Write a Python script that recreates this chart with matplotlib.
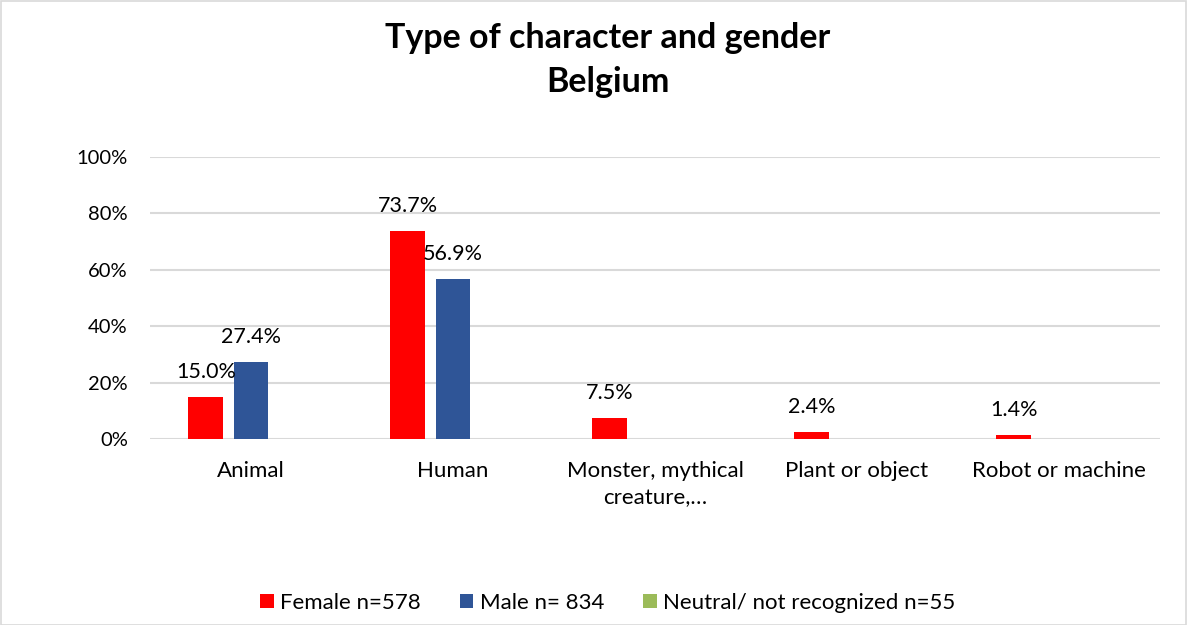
import matplotlib
matplotlib.use("Agg")
import matplotlib.pyplot as plt
import numpy as np
from matplotlib.patches import Rectangle

categories = ["Animal", "Human", "Monster, mythical\ncreature,…", "Plant or object", "Robot or machine"]
female = [0.150, 0.737, 0.075, 0.024, 0.014]
male = [0.274, 0.569, 0.0, 0.0, 0.0]
neutral = [0.0, 0.0, 0.0, 0.0, 0.0]
series_names = ["Female n=578", "Male n= 834", "Neutral/ not recognized n=55"]
colors = ["#FF0000", "#2F5597", "#9BBB59"]
yticks = [0, 0.2, 0.4, 0.6, 0.8, 1.0]
ytick_labels = ["0%", "20%", "40%", "60%", "80%", "100%"]
title = "Type of character and gender\nBelgium"

plt.rcParams['font.family'] = ['Lato', 'DejaVu Sans']

W, H = 1187, 625
fig = plt.figure(figsize=(W / 100, H / 100), dpi=100)
ax = fig.add_axes([150 / W, 1 - 439 / H, (1160 - 150) / W, (439 - 157) / H])

x = np.arange(len(categories))
bw = 0.173
step = 0.223
for i, (vals, name, col) in enumerate(zip([female, male, neutral], series_names, colors)):
    pos = x + (i - 1) * step
    ax.bar(pos, vals, width=bw, color=col, label=name, zorder=3)
    for xp, v in zip(pos, vals):
        if v > 0:
            ax.annotate(f"{v*100:.1f}%", (xp, v), xytext=(0, 18), textcoords="offset points",
                        ha="center", va="center", fontsize=15.5, color="#000000", zorder=4)

ax.set_xlim(-0.5, len(categories) - 0.5)
ax.set_ylim(0, 1)
ax.set_yticks(yticks)
ax.set_yticklabels(ytick_labels)
ax.set_xticks(x)
ax.set_xticklabels(categories, linespacing=1.45)
ax.tick_params(axis="y", length=0, pad=16, labelsize=14.5, colors="#000000")
ax.tick_params(axis="x", length=0, pad=16, labelsize=16, colors="#000000")
ax.grid(axis="y", color="#D9D9D9", linewidth=1.5, zorder=0)
for s in ax.spines.values():
    s.set_visible(False)

fig.text(608 / W, 1 - 60 / H, title, ha="center", va="center", fontsize=24.5, fontweight="bold",
         linespacing=1.5, color="#000000")

fig.legend(loc="center", bbox_to_anchor=(608 / W, 1 - 603 / H), ncol=3, frameon=False,
           fontsize=16, handlelength=0.6, handleheight=0.6, handletextpad=0.3,
           columnspacing=1.75)

fig.patches.append(Rectangle((0.5 / W, 0.5 / H), 1 - 1.5 / W, 1 - 1.5 / H, transform=fig.transFigure,
                             fill=False, edgecolor="#D9D9D9", linewidth=1.2))

fig.savefig("out.png", dpi=100)
